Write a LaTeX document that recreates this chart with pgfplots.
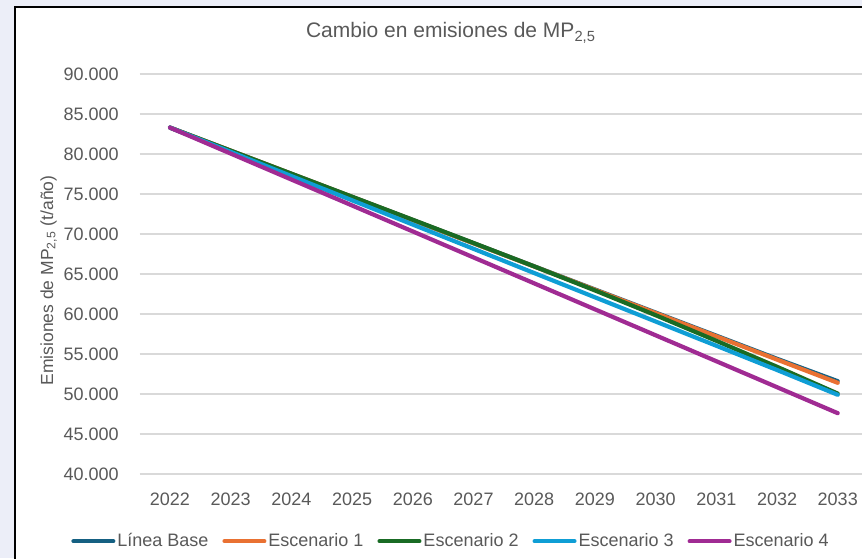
\documentclass[border=0pt]{standalone}
\usepackage{pgfplots}
\pgfplotsset{compat=1.18}
\usepackage{fontspec}
\setmainfont{Liberation Sans}
\definecolor{bgc}{HTML}{ECEEF8}
\definecolor{txt}{HTML}{595959}
\definecolor{gridc}{HTML}{D9D9D9}
\definecolor{cBase}{HTML}{156082}
\definecolor{cE1}{HTML}{E97132}
\definecolor{cE2}{HTML}{196B24}
\definecolor{cE3}{HTML}{0F9ED5}
\definecolor{cE4}{HTML}{A02B93}
\begin{document}
\begin{tikzpicture}[x=0.5pt,y=0.5pt]
\fill[bgc] (0,0) rectangle (862,558);
\useasboundingbox (0,0) rectangle (862,558);
\begin{scope}
\clip (0,0) rectangle (862,558);
\fill[white] (15,-10) rectangle (885,551);
\draw[black, line width=1pt] (15,-10) rectangle (885,551);
\begin{axis}[
  at={(69.8pt,42pt)}, anchor=south west,
  width=364.25pt, height=200pt, scale only axis,
  xmin=-0.5, xmax=11.5, ymin=40000, ymax=90000,
  scaled y ticks=false,
  xtick={0,1,2,3,4,5,6,7,8,9,10,11},
  xticklabels={2022,2023,2024,2025,2026,2027,2028,2029,2030,2031,2032,2033},
  ytick={40000,45000,50000,55000,60000,65000,70000,75000,80000,85000,90000},
  yticklabels={40.000,45.000,50.000,55.000,60.000,65.000,70.000,75.000,80.000,85.000,90.000},
  ymajorgrids, major grid style={draw=gridc, line width=0.75pt},
  axis line style={draw=none}, tick style={draw=none},
  tick label style={font=\fontsize{9}{10}\selectfont, text=txt},
  yticklabel style={anchor=east, inner sep=0pt, xshift=-10.3pt},
  xticklabel style={anchor=north, inner sep=0pt, yshift=-9.35pt},
  clip=false,
  legend columns=5,
  legend style={at={(0.4261,-0.168)}, anchor=center, draw=none, fill=none,
    font=\fontsize{9}{10}\selectfont, text=txt,
    /tikz/every odd column/.append style={column sep=1pt},
    /tikz/every even column/.append style={column sep=7pt},
    nodes={inner sep=0pt}},
  legend image code/.code={\draw[#1, line width=2pt] (0pt,0pt) -- (20pt,0pt);},
  every axis plot/.append style={line width=2.1pt, line cap=round, line join=round},
]
\addplot[cBase] coordinates {(0,83300) (1,80410) (2,77520) (3,74630) (4,71740) (5,68850) (6,65960) (7,63070) (8,60180) (9,57290) (10,54400) (11,51600)};
\addlegendentry{Línea Base}
\addplot[cE1] coordinates {(0,83300) (1,80420) (2,77530) (3,74640) (4,71740) (5,68840) (6,65940) (7,63030) (8,60120) (9,57210) (10,54300) (11,51400)};
\addlegendentry{Escenario 1}
\addplot[cE2] coordinates {(0,83300) (1,80420) (2,77540) (3,74660) (4,71780) (5,68880) (6,65950) (7,62950) (8,59850) (9,56650) (10,53400) (11,50050)};
\addlegendentry{Escenario 2}
\addplot[cE3] coordinates {(0,83300) (1,80270) (2,77240) (3,74210) (4,71180) (5,68150) (6,65120) (7,62090) (8,59060) (9,56030) (10,53000) (11,49900)};
\addlegendentry{Escenario 3}
\addplot[cE4] coordinates {(0,83300) (1,80055) (2,76810) (3,73565) (4,70320) (5,67075) (6,63830) (7,60585) (8,57340) (9,54095) (10,50850) (11,47600)};
\addlegendentry{Escenario 4}
\end{axis}
\end{scope}
\node[anchor=base, text=txt, font=\fontsize{10.5}{12}\selectfont, inner sep=0pt] at (451,520) {Cambio en emisiones de MP\textsubscript{2,5}};
\node[anchor=base, rotate=90, text=txt, font=\fontsize{8.75}{10}\selectfont, inner sep=0pt] at (53,277.5) {Emisiones de MP\textsubscript{2,5} (t/año)};
\end{tikzpicture}
\end{document}
